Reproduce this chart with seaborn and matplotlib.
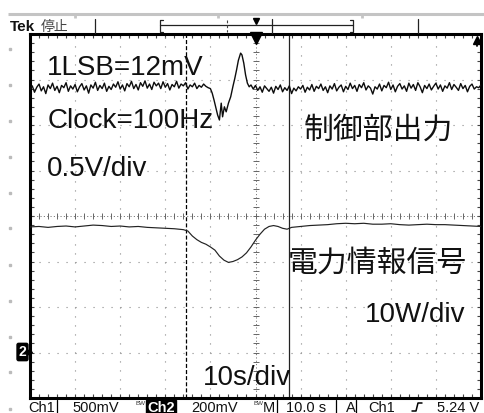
import numpy as np
import pandas as pd
import matplotlib
matplotlib.use("Agg")
import matplotlib.pyplot as plt
from matplotlib.patches import Rectangle
import seaborn as sns

# ---------------- data (time in s, trace position in screen divisions) ----------------
ch1_t_left = np.arange(-50, -10, 0.5)
ch1_left = [
    2.78, 2.86, 2.72, 2.83, 2.90, 2.75, 2.84, 2.69, 2.88, 2.80,
    2.92, 2.76, 2.85, 2.71, 2.87, 2.82, 2.93, 2.74, 2.86, 2.79,
    2.89, 2.73, 2.84, 2.91, 2.77, 2.86, 2.70, 2.88, 2.81, 2.94,
    2.76, 2.87, 2.80, 2.92, 2.74, 2.85, 2.78, 2.90, 2.83, 2.95,
    2.79, 2.88, 2.75, 2.91, 2.84, 2.96, 2.80, 2.89, 2.77, 2.93,
    2.85, 2.97, 2.81, 2.90, 2.78, 2.94, 2.86, 2.92, 2.80, 2.95,
    2.83, 2.91, 2.77, 2.89, 2.84, 2.96, 2.81, 2.90, 2.86, 2.93,
    2.79, 2.88, 2.84, 2.92, 2.80, 2.87, 2.83, 2.90, 2.85, 2.82,
]
ch1_t_event = [-10.0, -9.6, -9.2, -8.8, -8.4, -8.0, -7.6, -7.3, -6.9, -6.5, -6.0,
               -5.5, -5.0, -4.6, -4.2, -3.8, -3.3, -3.0, -2.6, -2.2, -1.8, -1.4, -1.0]
ch1_event = [2.80, 2.70, 2.55, 2.38, 2.22, 2.11, 2.48, 2.18, 2.40, 2.29, 2.48,
             2.62, 2.85, 3.02, 3.21, 3.42, 3.58, 3.54, 3.36, 3.10, 2.92, 2.84, 2.88]
ch1_t_right = np.arange(-0.5, 50.5, 0.5)
ch1_right = [
    2.79, 2.87, 2.76, 2.84, 2.72, 2.86, 2.80, 2.74, 2.83, 2.70,
    2.85, 2.78, 2.88, 2.73, 2.82, 2.76, 2.86, 2.69, 2.81, 2.75,
    2.84, 2.79, 2.87, 2.72, 2.83, 2.77, 2.89, 2.74, 2.85, 2.80,
    2.90, 2.76, 2.84, 2.71, 2.86, 2.79, 2.91, 2.75, 2.83, 2.88,
    2.73, 2.85, 2.78, 2.92, 2.80, 2.87, 2.74, 2.89, 2.82, 2.93,
    2.77, 2.86, 2.81, 2.68, 2.84, 2.79, 2.90, 2.75, 2.87, 2.82,
    2.94, 2.78, 2.88, 2.73, 2.85, 2.91, 2.79, 2.86, 2.74, 2.92,
    2.81, 2.89, 2.76, 2.93, 2.84, 2.71, 2.87, 2.80, 2.90, 2.77,
    2.85, 2.92, 2.79, 2.88, 2.74, 2.86, 2.81, 2.93, 2.78, 2.89,
    2.83, 2.76, 2.91, 2.80, 2.87, 2.73, 2.85, 2.90, 2.79, 2.84,
    2.82, 2.88,
]

ch2_t = [-50, -48, -46, -44, -42, -40, -38, -36, -34, -32, -30, -28, -26, -24, -22,
         -20, -18, -16, -15, -14, -13, -12, -11, -10, -9, -8, -7, -6, -5, -4, -3,
         -2, -1, 0, 1, 2, 3, 4, 5, 6, 7, 8, 10, 12, 14, 16, 18, 20, 22, 24, 26,
         28, 30, 32, 34, 36, 38, 40, 42, 44, 46, 48, 50]
ch2 = [-0.24, -0.23, -0.25, -0.23, -0.22, -0.24, -0.22, -0.20, -0.21, -0.23, -0.22,
       -0.24, -0.23, -0.25, -0.26, -0.27, -0.28, -0.30, -0.33, -0.44, -0.52, -0.58,
       -0.62, -0.68, -0.75, -0.88, -0.97, -1.02, -1.00, -0.96, -0.90, -0.81, -0.68,
       -0.53, -0.40, -0.29, -0.23, -0.21, -0.23, -0.27, -0.29, -0.25, -0.23, -0.21,
       -0.20, -0.19, -0.17, -0.16, -0.17, -0.16, -0.18, -0.18, -0.17, -0.19, -0.20,
       -0.19, -0.18, -0.19, -0.19, -0.20, -0.21, -0.22, -0.23]

cursor_dashed_t = -15.4
cursor_solid_t = 7.4

labels_left = ["1LSB=12mV", "Clock=100Hz", "0.5V/div"]
label_ch1 = "制御部出力"
label_ch2 = "電力情報信号"
label_ch2_scale = "10W/div"
label_time = "10s/div"
status = ["Ch1", "500mV", "Ch2", "200mV", "M", "10.0 s", "A", "Ch1", "5.24 V"]

ch1_t = np.concatenate([ch1_t_left, ch1_t_event, ch1_t_right])
ch1_v = np.concatenate([ch1_left, ch1_event, ch1_right])
df1 = pd.DataFrame({"t": ch1_t, "v": ch1_v})
df2 = pd.DataFrame({"t": ch2_t, "v": ch2})

# ---------------- style ----------------
sns.set_style("white")
plt.rcParams["font.family"] = ["Liberation Sans", "Noto Sans CJK JP", "DejaVu Sans"]
plt.rcParams["lines.scale_dashes"] = False

W, H = 484, 413
fig = plt.figure(figsize=(W / 100, H / 100), dpi=100)
ax = fig.add_axes([30 / W, (H - 398) / H, 451 / W, 364 / H])
ax.set_xlim(-50, 50)
ax.set_ylim(-4, 4)

# graticule
dot = (0, (0.8, 5.68))
for x in [-40, -30, -20, -10, 10, 20, 30, 40]:
    ax.axvline(x, color="#8a8a8a", lw=0.8, ls=dot, zorder=1)
for y in [-3, -2, -1, 1, 2, 3]:
    ax.axhline(y, color="#8a8a8a", lw=0.8, ls=dot, zorder=1)
ax.axvline(0, color="#777777", lw=0.7, ls=(0, (0.8, 1.6)), zorder=1)
ax.axhline(0, color="#777777", lw=0.7, ls=(0, (0.8, 1.6)), zorder=1)
xt = np.arange(-50, 50.1, 2)
yt = np.arange(-4, 4.01, 0.2)
ax.plot(xt, np.zeros_like(xt), ls="none", marker="|", ms=4, mew=0.7, color="#666666", zorder=1)
ax.plot(np.zeros_like(yt), yt, ls="none", marker="_", ms=4, mew=0.7, color="#666666", zorder=1)

ax.set_xticks(np.arange(-50, 51, 10))
ax.set_xticks(np.arange(-50, 51, 2), minor=True)
ax.set_yticks(np.arange(-4, 5, 1))
ax.set_yticks(np.arange(-4, 4.01, 0.2), minor=True)
ax.tick_params(which="both", direction="in", length=3, width=0.8, color="#444444",
               top=True, right=True, bottom=True, left=True,
               labelbottom=False, labelleft=False)
for s in ax.spines.values():
    s.set_linewidth(2.2)
    s.set_color("black")

# cursors
ax.axvline(cursor_dashed_t, color="black", lw=0.9, ls=(0, (2.9, 1.5)), zorder=2)
ax.axvline(cursor_solid_t, color="#222222", lw=0.9, zorder=2)

# traces
sns.lineplot(data=df1, x="t", y="v", ax=ax, color="#0d0d0d", lw=1.0,
             estimator=None, sort=False, legend=False, zorder=3)
sns.lineplot(data=df2, x="t", y="v", ax=ax, color="#222222", lw=0.85,
             estimator=None, sort=False, legend=False, zorder=3)
ax.set_xlabel("")
ax.set_ylabel("")

# annotations
lat = dict(fontsize=20, family="Liberation Sans", color="#111111", zorder=4)
cjk = dict(fontsize=21.5, family=["Noto Sans CJK JP", "DejaVu Sans"], color="#111111", zorder=4)
ax.text(-46.2, 3.10, labels_left[0], va="baseline", **lat)
ax.text(-46.2, 1.93, labels_left[1], va="baseline", **lat)
ax.text(-46.2, 0.88, labels_left[2], va="baseline", **lat)
ax.text(10.8, 1.89, label_ch1, va="center", **cjk)
ax.text(7.2, -1.03, label_ch2, va="center", **cjk)
ax.text(24.3, -2.33, label_ch2_scale, va="baseline", **lat)
ax.text(-11.6, -3.71, label_time, va="baseline", **lat)

# ---------------- overlay for scope UI ----------------
ov = fig.add_axes([0, 0, 1, 1], zorder=5)
ov.set_xlim(0, W)
ov.set_ylim(H, 0)
ov.axis("off")
ov.patch.set_alpha(0)

ov.plot([8, 484], [13.5, 13.5], color="#c4c4c4", lw=2.2, solid_capstyle="butt")
for x in [75, 218, 362]:
    ov.plot([x, x], [15, 18], color="#c4c4c4", lw=2, solid_capstyle="butt")
ov.text(10, 31, "Tek", fontweight="bold", fontsize=11, va="baseline", color="#111111")
ov.text(41, 31, "停止", fontsize=10, va="baseline", color="#444444",
        family=["Noto Sans CJK JP", "DejaVu Sans"])
k = dict(color="#222222", lw=0.9)
ov.plot([95, 95], [19, 33], **k)
ov.plot([418, 418], [19, 33], **k)
ov.plot([163, 160, 160, 163], [19.5, 19.5, 32, 32], **k)
ov.plot([350, 353, 353, 350], [19.5, 19.5, 32, 32], **k)
ov.plot([160, 353], [25, 25], **k)
ov.plot([227, 227], [20, 32], color="#444444", lw=0.8, ls=(0, (2, 1.5)))
ov.plot([272, 272], [19, 33], **k)
ov.plot(256, 20.5, marker="v", ms=5, color="black")
ov.plot(256, 37.5, marker="v", ms=8, color="black")
ov.plot([477, 477], [40, 46], lw=1.3, color="black")
ov.plot(477, 40, marker="^", ms=6, color="black")

ov.plot([10] * 11, [49, 85, 121, 157, 193, 228, 265, 301, 337, 372, 409],
        ls="none", marker="s", ms=1.8, color="#bbbbbb")

ov.text(22.5, 352, "2", color="white", fontweight="bold", fontsize=10, ha="center",
        va="center", bbox=dict(boxstyle="round,pad=0.12", fc="black", ec="black"))
ov.plot(28.5, 352, marker=">", ms=5, color="black")

st = dict(fontsize=10.5, va="top", color="#111111", family="Liberation Sans")
ov.text(28, 400.5, status[0], **st)
ov.text(72, 400.5, status[1], **st)
ov.add_patch(Rectangle((146, 400), 30, 13, color="black"))
ov.text(161, 400.5, status[2], ha="center", **{**st, "color": "white"}, fontweight="bold")
ov.text(191, 400.5, status[3], **st)
ov.text(263, 400.5, status[4], **st)
ov.text(286, 400.5, status[5], **st)
ov.text(346, 400.5, status[6], **st)
ov.text(368, 400.5, status[7], **st)
ov.text(437, 400.5, status[8], **st)
for bx in [136, 254]:
    ov.text(bx, 401, "BW", fontsize=4.5, va="top", color="#333333")
for x in [57, 277, 336, 356]:
    ov.plot([x, x], [400, 413], color="black", lw=0.9)
ov.plot([412, 416, 418, 422], [411, 411, 403, 403], color="black", lw=1.1)

fig.savefig("out.png", dpi=100)
